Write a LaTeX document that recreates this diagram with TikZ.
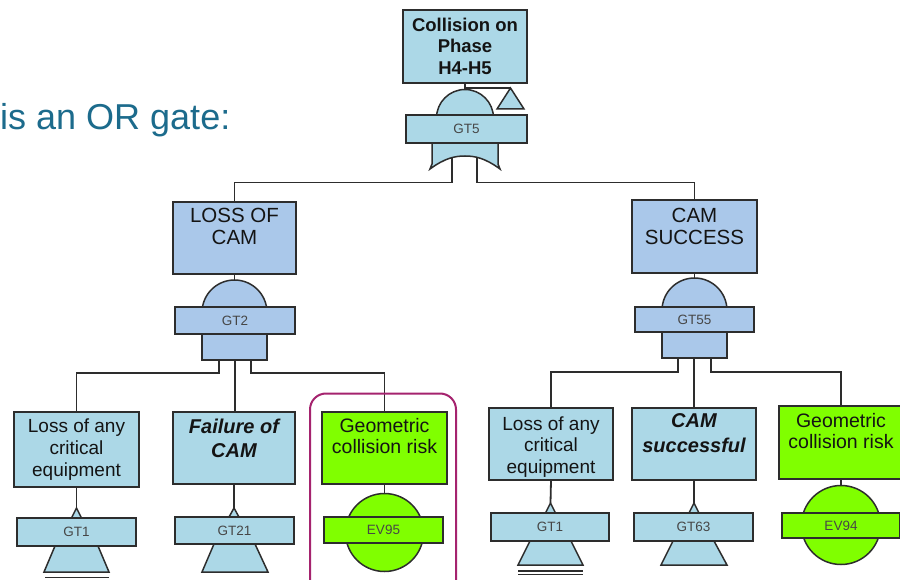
\documentclass[tikz,border=0pt]{standalone}
\usepackage{fontspec}
\setmainfont{Liberation Sans}
\newcommand\fsz[2]{\fontsize{#1}{#2}\selectfont}
\definecolor{cyanb}{RGB}{172,216,231}
\definecolor{blueb}{RGB}{170,200,234}
\definecolor{greenb}{RGB}{128,255,0}
\definecolor{magframe}{RGB}{165,35,110}
\definecolor{titlec}{RGB}{28,107,140}
\definecolor{linec}{RGB}{45,45,45}
\definecolor{txtc}{RGB}{20,20,20}
\definecolor{gatetxt}{RGB}{70,70,70}
\tikzset{
  lc/.style={draw=linec, line width=1.8pt},
  shp/.style={draw=linec, line width=1.5pt},
  boxn/.style={shp, rectangle, inner sep=0pt, minimum width=#1},
  boxn/.default=124pt,
  btext/.style={anchor=north, inner sep=0pt, align=center, text=txtc},
  glabel/.style={shp, rectangle, inner sep=0pt, text=gatetxt, font=\fsz{13.5}{15}},
}
\begin{document}
\begin{tikzpicture}[x=1pt,y=-1pt]
\useasboundingbox (0,0) rectangle (900,580);
\clip (0,0) rectangle (900,580);

% title fragment
\node[anchor=base west, inner sep=0pt, text=titlec, font=\fsz{36}{40}] (ttl) at (0,130) {is an OR gate:};

% ---------------- top event
\node[boxn=124pt, minimum height=73pt, fill=cyanb] (top) at (465,46.5) {};
\node[btext, font=\fsz{18.5}{21.5}\bfseries] (topT) at (465,17.5) {Collision on\\Phase\\H4-H5};
\coordinate (dome5) at (465,89.5);
\coordinate (trapex) at (510.5,88);
\draw[lc] (top.south) -- (dome5);
\draw[lc] (top.south) |- (trapex);
\draw[shp, fill=cyanb] (trapex) -- (524,109) -- (497,109) -- cycle;
% OR gate GT5
\draw[shp, fill=cyanb] (436.5,118) arc[start angle=180, end angle=0, radius=28.5pt] -- cycle;
\draw[shp, fill=cyanb] (432,143) -- (432,164) -- (430,169) .. controls (445,158) and (455,156) .. (465,156)
   .. controls (475,156) and (485,158) .. (500,169) -- (498,164) -- (498,143) -- cycle;
\node[glabel, fill=cyanb, minimum width=121pt, minimum height=28pt] (gt5) at (466.5,129) {GT5};
\coordinate (g5a) at (452,157.5);
\coordinate (g5b) at (477,157.5);

% ---------------- second level
\node[boxn=123pt, minimum height=72pt, fill=blueb] (loss) at (234.5,238) {};
\node[btext, font=\fsz{20.5}{22}] (lossT) at (234.5,208.3) {LOSS OF\\CAM};
\node[boxn=125pt, minimum height=73pt, fill=blueb] (succ) at (694.5,236.5) {};
\node[btext, font=\fsz{20.5}{22}] (succT) at (694.5,208.3) {CAM\\SUCCESS};

\draw[lc] (g5a) -- ++(0,25) -| (loss.north);
\draw[lc] (g5b) -- ++(0,25) -| (succ.north);

% AND gate GT2
\coordinate (dome2) at (234.5,280);
\draw[lc] (loss.south) -- (dome2);
\draw[shp, fill=blueb] (202,312.5) arc[start angle=180, end angle=0, radius=32.5pt] -- cycle;
\node[shp, fill=blueb, minimum width=65pt, minimum height=26pt, inner sep=0pt] (gt2low) at (234.5,347) {};
\node[glabel, fill=blueb, minimum width=120pt, minimum height=27pt] (gt2) at (235,320.5) {GT2};
\coordinate (g2a) at (219,360);
\coordinate (g2b) at (235,360);
\coordinate (g2c) at (251,360);

% AND gate GT55
\coordinate (dome55) at (694.5,278);
\draw[lc] (succ.south) -- (dome55);
\draw[shp, fill=blueb] (662,310.5) arc[start angle=180, end angle=0, radius=32.5pt] -- cycle;
\node[shp, fill=blueb, minimum width=65pt, minimum height=26pt, inner sep=0pt] (gt55low) at (694.5,345) {};
\node[glabel, fill=blueb, minimum width=119pt, minimum height=25pt] (gt55) at (694.5,319.5) {GT55};
\coordinate (g55a) at (678,358);
\coordinate (g55b) at (694,358);
\coordinate (g55c) at (711,358);

% ---------------- bottom level boxes
\node[boxn=125pt, minimum height=75pt, fill=cyanb] (b1) at (76.5,449.5) {};
\node[btext, font=\fsz{19}{22}] (b1T) at (76.5,418.1) {Loss of any\\critical\\equipment};
\node[boxn=122pt, minimum height=72pt, fill=cyanb] (b2) at (234,448) {};
\node[btext, font=\fsz{20}{24}\bfseries\itshape] (b2T) at (234,418.4) {Failure of\\CAM};
\node[boxn=125pt, minimum height=72pt, fill=greenb] (b3) at (384.5,448) {};
\node[btext, font=\fsz{19.5}{21.5}] (b3T) at (384.5,417.8) {Geometric\\collision risk};

\node[boxn=124pt, minimum height=72pt, fill=cyanb] (b4) at (551,444) {};
\node[btext, font=\fsz{19}{21.5}] (b4T) at (551,416.1) {Loss of any\\critical\\equipment};
\node[boxn=124pt, minimum height=72pt, fill=cyanb] (b5) at (694,444) {};
\node[btext, font=\fsz{20}{24.5}\bfseries\itshape] (b5T) at (694,413.7) {CAM\\successful};
\node[boxn=124pt, minimum height=73pt, fill=greenb] (b6) at (841,442.5) {};
\node[btext, font=\fsz{19.5}{21.5}] (b6T) at (841,412.8) {Geometric\\collision risk};

\draw[lc] (g2a) -- ++(0,13) -| (b1.north);
\draw[lc] (g2b) -- (b2.north -| g2b);
\draw[lc] (g2c) -- ++(0,13) -| (b3.north);
\draw[lc] (g55a) -- ++(0,14) -| (b4.north);
\draw[lc] (g55b) -- (b5.north);
\draw[lc] (g55c) -- ++(0,14) -| (b6.north);

% ---------------- transfer gates under B1, B2, B4, B5
% B1 / GT1
\coordinate (t1) at (76.5,508);
\draw[lc] (b1.south) -- (t1);
\draw[shp, fill=cyanb] (t1) -- (81.5,518) -- (71.5,518) -- cycle;
\draw[shp, fill=cyanb] (55,546) -- (98,546) -- (109,572) -- (44,572) -- cycle;
\node[glabel, fill=cyanb, minimum width=119pt, minimum height=28pt] (gt1a) at (76.5,532) {GT1};
\draw[shp] (45,577.5) -- (109,577.5);
\draw[shp] (45,581) -- (109,581);
% B2 / GT21
\coordinate (t2) at (234,508);
\draw[lc] (b2.south) -- (t2);
\draw[shp, fill=cyanb] (t2) -- (239,517) -- (229,517) -- cycle;
\draw[shp, fill=cyanb] (214,544) -- (255,544) -- (268,572) -- (202,572) -- cycle;
\node[glabel, fill=cyanb, minimum width=119pt, minimum height=27pt] (gt21) at (234.5,530.5) {GT21};
% B4 / GT1
\coordinate (t4) at (550.5,503);
\draw[lc] (b4.south) -- (t4);
\draw[shp, fill=cyanb] (t4) -- (555.5,513) -- (545.5,513) -- cycle;
\draw[shp, fill=cyanb] (530,541) -- (571,541) -- (583,565) -- (518,565) -- cycle;
\node[glabel, fill=cyanb, minimum width=118pt, minimum height=28pt] (gt1b) at (550,527) {GT1};
\draw[shp] (518,571) -- (583,571);
\draw[shp] (518,574.5) -- (583,574.5);
% B5 / GT63
\coordinate (t5) at (694,503);
\draw[lc] (b5.south) -- (t5);
\draw[shp, fill=cyanb] (t5) -- (699,513) -- (689,513) -- cycle;
\draw[shp, fill=cyanb] (673,541) -- (714,541) -- (727,565) -- (661,565) -- cycle;
\node[glabel, fill=cyanb, minimum width=119pt, minimum height=28pt] (gt63) at (693.5,527) {GT63};

% ---------------- basic events
\node[shp, circle, fill=greenb, minimum size=78pt, inner sep=0pt] (ev95c) at (384.5,532.5) {};
\draw[lc] (b3.south) -- (ev95c.north);
\node[glabel, fill=greenb, minimum width=119pt, minimum height=26pt] (ev95) at (383.5,530) {EV95};
\node[shp, circle, fill=greenb, minimum size=79pt, inner sep=0pt] (ev94c) at (841,525) {};
\draw[lc] (b6.south) -- (ev94c.north);
\node[glabel, fill=greenb, minimum width=118pt, minimum height=25pt] (ev94) at (841,525.5) {EV94};

% highlight frame
\draw[draw=magframe, line width=2pt, rounded corners=16pt] (310,620) -- (310,393.5) -- (456,393.5) -- (456,620);
\end{tikzpicture}
\end{document}
